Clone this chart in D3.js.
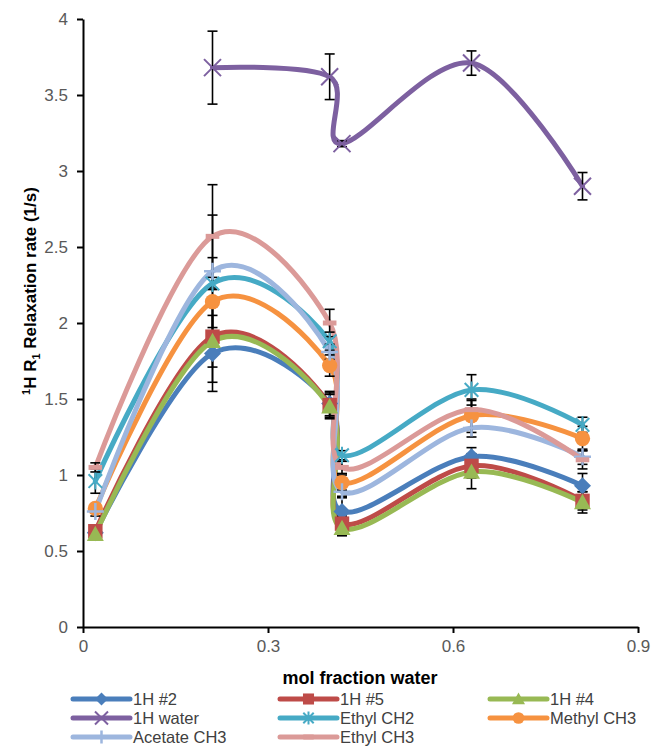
<!DOCTYPE html>
<html><head><meta charset="utf-8">
<script src="https://cdn.jsdelivr.net/npm/d3@7"></script>
<style>body{margin:0;background:#fff} svg{display:block}</style>
</head><body>
<svg id="c" width="652" height="748"></svg>
<script>
// ---------- data ----------
const xValues = [0.02, 0.21, 0.40, 0.42, 0.63, 0.81];
const seriesNames = ["1H #2", "1H #5", "1H #4", "1H water", "Ethyl CH2", "Methyl CH3", "Acetate CH3", "Ethyl CH3"];
const h2        = [0.62, 1.80, 1.47, 0.76, 1.12, 0.93];
const h2Err     = [0.03, 0.25, 0.08, 0.10, 0.06, 0.08];
const h5        = [0.63, 1.91, 1.46, 0.68, 1.06, 0.83];
const h5Err     = [0.03, 0.20, 0.08, 0.05, 0.08, 0.06];
const h4        = [0.61, 1.88, 1.45, 0.65, 1.02, 0.82];
const h4Err     = [0.03, 0.27, 0.08, 0.05, 0.11, 0.07];
const hWater    = [null, 3.68, 3.62, 3.18, 3.71, 2.90];
const hWaterErr = [0,    0.24, 0.15, 0.02, 0.08, 0.09];
const ethylCH2    = [0.96, 2.26, 1.88, 1.13, 1.56, 1.33];
const ethylCH2Err = [0.08, 0.04, 0.06, 0.03, 0.10, 0.05];
const methylCH3    = [0.78, 2.14, 1.72, 0.95, 1.39, 1.24];
const methylCH3Err = [0.03, 0.29, 0.07, 0.05, 0.11, 0.08];
const acetateCH3    = [0.76, 2.34, 1.81, 0.89, 1.31, 1.12];
const acetateCH3Err = [0.03, 0.37, 0.05, 0.04, 0.06, 0.05];
const ethylCH3    = [1.05, 2.57, 2.00, 1.05, 1.43, 1.10];
const ethylCH3Err = [0.03, 0.34, 0.09, 0.04, 0.06, 0.06];
const xTicks = [0, 0.3, 0.6, 0.9];
const xTickLabels = ["0", "0.3", "0.6", "0.9"];
const yTicks = [0, 0.5, 1, 1.5, 2, 2.5, 3, 3.5, 4];
const yTickLabels = ["0", "0.5", "1", "1.5", "2", "2.5", "3", "3.5", "4"];
const xTitle = "mol fraction water";

// ---------- styles ----------
const colors = ["#4A7EBB", "#BE4B48", "#98B954", "#7D60A0", "#46AAC5", "#F69240", "#9DB6DE", "#DB9A98"];
const markers = ["diamond", "square", "triangle", "x", "asterisk", "circle", "plus", "dash"];
const values = [h2, h5, h4, hWater, ethylCH2, methylCH3, acetateCH3, ethylCH3];
const errs = [h2Err, h5Err, h4Err, hWaterErr, ethylCH2Err, methylCH3Err, acetateCH3Err, ethylCH3Err];

const series = seriesNames.map((name, i) => ({
  name, color: colors[i], marker: markers[i],
  pts: xValues.map((x, j) => ({x, v: values[i][j], e: errs[i][j]})).filter(p => p.v != null)
}));

const svg = d3.select("#c");
const x = d3.scaleLinear().domain([0, 0.9]).range([83, 638]);
const y = d3.scaleLinear().domain([0, 4]).range([627, 19]);
const FONT = "'Liberation Sans', Arial, sans-serif";

// axes
const yAxis = d3.axisLeft(y).tickValues(yTicks).tickSize(6).tickSizeOuter(0).tickPadding(9)
  .tickFormat((d, i) => yTickLabels[i]);
const gy = svg.append("g").attr("transform", "translate(83,0)").call(yAxis);
const xAxis = d3.axisBottom(x).tickValues(xTicks).tickSize(6).tickSizeOuter(0).tickPadding(7)
  .tickFormat((d, i) => xTickLabels[i]);
const gx = svg.append("g").attr("transform", "translate(0,627)").call(xAxis);
[gx, gy].forEach(g => {
  g.select(".domain").attr("stroke", "#000").attr("stroke-width", 2);
  g.selectAll(".tick line").attr("stroke", "#000").attr("stroke-width", 2);
  g.selectAll(".tick text").attr("fill", "#595959").style("font-family", FONT).style("font-size", "17px");
});

// axis titles
svg.append("text").attr("x", 360).attr("y", 684).attr("text-anchor", "middle")
  .style("font-family", FONT).style("font-size", "18px").style("font-weight", "bold").text(xTitle);
const yt = svg.append("text").attr("transform", "translate(36,291) rotate(-90)").attr("text-anchor", "middle")
  .style("font-family", FONT).style("font-size", "17px").style("font-weight", "bold");
yt.append("tspan").attr("font-size", "11px").attr("dy", "-6").text("1");
yt.append("tspan").attr("dy", "6").text("H R");
yt.append("tspan").attr("font-size", "11px").attr("dy", "4").text("1");
yt.append("tspan").attr("dy", "-4").text(" Relaxation rate (1/s)");

// markers
function drawMarker(g, type, color, cx, cy, r) {
  const m = g.append("g").attr("transform", `translate(${cx},${cy})`);
  if (type === "diamond") m.append("path").attr("d", `M0,${-r}L${r},0L0,${r}L${-r},0Z`).attr("fill", color);
  else if (type === "square") m.append("rect").attr("x", -r * 0.85).attr("y", -r * 0.85).attr("width", r * 1.7).attr("height", r * 1.7).attr("fill", color);
  else if (type === "triangle") m.append("path").attr("d", `M0,${-r}L${r},${r * 0.8}L${-r},${r * 0.8}Z`).attr("fill", color);
  else if (type === "circle") m.append("circle").attr("r", r * 0.9).attr("fill", color);
  else if (type === "x") m.append("path").attr("d", `M${-r},${-r}L${r},${r}M${-r},${r}L${r},${-r}`).attr("stroke", color).attr("stroke-width", 2).attr("fill", "none");
  else if (type === "asterisk") m.append("path").attr("d", `M${-r * 0.8},${-r * 0.8}L${r * 0.8},${r * 0.8}M${-r * 0.8},${r * 0.8}L${r * 0.8},${-r * 0.8}M0,${-r}L0,${r}`).attr("stroke", color).attr("stroke-width", 2).attr("fill", "none");
  else if (type === "plus") m.append("path").attr("d", `M0,${-r}L0,${r}M${-r},0L${r},0`).attr("stroke", color).attr("stroke-width", 2.5).attr("fill", "none");
  else if (type === "dash") m.append("rect").attr("x", -r * 0.8).attr("y", -2.5).attr("width", r * 1.6).attr("height", 5).attr("fill", color);
}

// lines
const line = d3.line().x(p => x(p.x)).y(p => y(p.v)).curve(d3.curveCardinal.tension(0));
const gLines = svg.append("g");
series.forEach(s => {
  gLines.append("path").attr("d", line(s.pts)).attr("fill", "none").attr("stroke", s.color)
    .attr("stroke-width", 5).attr("stroke-linecap", "round").attr("stroke-linejoin", "round");
});
// error bars
const gErr = svg.append("g").attr("stroke", "#000").attr("stroke-width", 1.6);
series.forEach(s => {
  s.pts.filter(p => p.e > 0).forEach(p => {
    const cx = x(p.x), y1 = y(p.v + p.e), y2 = y(p.v - p.e);
    gErr.append("line").attr("x1", cx).attr("x2", cx).attr("y1", y1).attr("y2", y2);
    gErr.append("line").attr("x1", cx - 5).attr("x2", cx + 5).attr("y1", y1).attr("y2", y1);
    gErr.append("line").attr("x1", cx - 5).attr("x2", cx + 5).attr("y1", y2).attr("y2", y2);
  });
});
// markers
const gMk = svg.append("g");
series.forEach(s => s.pts.forEach(p => drawMarker(gMk, s.marker, s.color, x(p.x), y(p.v), 8.5)));

// legend
const colX = [73, 280, 490];
const rowY = [699, 718, 737];
const gLeg = svg.append("g");
series.forEach((s, i) => {
  const cx = colX[i % 3], cy = rowY[Math.floor(i / 3)];
  gLeg.append("line").attr("x1", cx).attr("x2", cx + 57).attr("y1", cy).attr("y2", cy)
    .attr("stroke", s.color).attr("stroke-width", 5).attr("stroke-linecap", "round");
  drawMarker(gLeg, s.marker, s.color, cx + 28.5, cy, 6.5);
  gLeg.append("text").attr("x", cx + 60).attr("y", cy).attr("dy", "0.36em")
    .style("font-family", FONT).style("font-size", "16.5px").attr("fill", "#404040").text(s.name);
});
</script>
</body></html>
